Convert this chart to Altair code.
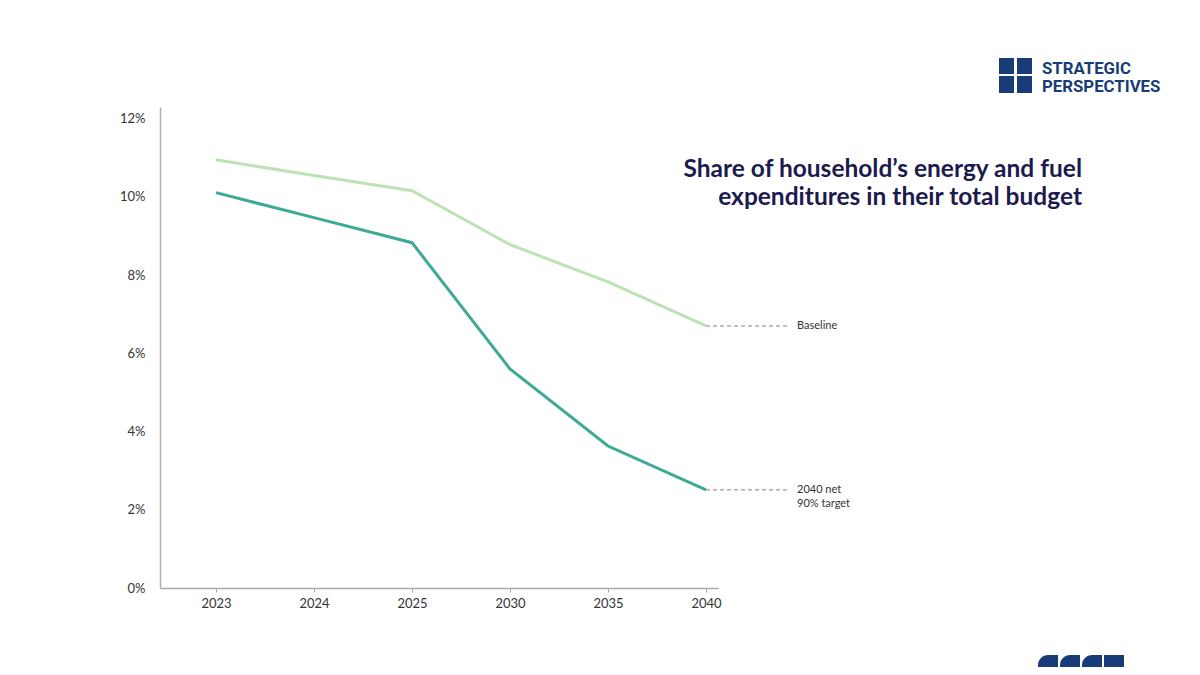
import altair as alt
import pandas as pd

years = ["2023", "2024", "2025", "2030", "2035", "2040"]
baseline = [10.95, 10.55, 10.16, 8.78, 7.83, 6.70]
target = [10.11, 9.47, 8.83, 5.60, 3.63, 2.51]
y_ticks = [0, 2, 4, 6, 8, 10, 12]

rows = []
for i, yr in enumerate(years):
    rows.append({"idx": i, "year": yr, "value": baseline[i], "series": "Baseline"})
    rows.append({"idx": i, "year": yr, "value": target[i], "series": "Target"})
df = pd.DataFrame(rows)

FONT = "Lato"
NAVY = "#1b1b4f"
LOGO = "#173c78"

label_expr = "[" + ",".join("'%s'" % y for y in years) + "][datum.value]"

x_enc = alt.X(
    "idx:Q",
    scale=alt.Scale(domain=[-0.571, 5.122], nice=False, zero=False),
    axis=alt.Axis(
        values=list(range(len(years))), labelExpr=label_expr, title=None, grid=False,
        tickSize=4, tickColor="#aaaaaa", domainColor="#aaaaaa", domainWidth=1.5,
        labelFont=FONT, labelFontSize=13, labelColor="#333333", labelPadding=5,
    ),
)
y_enc = alt.Y(
    "value:Q",
    scale=alt.Scale(domain=[0, 12.3], nice=False),
    axis=alt.Axis(
        values=y_ticks, labelExpr="datum.value + '%'", title=None, grid=False,
        ticks=False, domainColor="#b0b0b0", domainWidth=1.5,
        labelFont=FONT, labelFontSize=13, labelColor="#333333", labelPadding=15,
    ),
)

lines = alt.Chart(df).mark_line(strokeWidth=3).encode(
    x=x_enc,
    y=y_enc,
    color=alt.Color("series:N", scale=alt.Scale(domain=["Baseline", "Target"],
                                                range=["#bde3b5", "#3daa95"]), legend=None),
)

last = df[df["idx"] == len(years) - 1]
dashes = alt.Chart(last).mark_rule(strokeDash=[4, 3], strokeWidth=1, color="#7f7fa6").encode(
    x="idx:Q", x2=alt.value(630), y="value:Q"
)

ann_labels = [("Baseline", baseline[-1], 0), ("2040 net", target[-1], 0), ("90% target", target[-1], 14)]
ann_layers = []
for txt, val, dy in ann_labels:
    ann_layers.append(
        alt.Chart(pd.DataFrame({"value": [val], "text": [txt]})).mark_text(
            align="left", baseline="middle", font=FONT, fontSize=11, color="#333333", dy=dy
        ).encode(x=alt.value(637), y="value:Q", text="text:N")
    )

title_lines = ["Share of household\u2019s energy and fuel", "expenditures in their total budget"]
title_layers = []
for k, t in enumerate(title_lines):
    title_layers.append(
        alt.Chart(pd.DataFrame({"t": [t]})).mark_text(
            align="right", baseline="middle", font=FONT, fontSize=24.5, fontWeight="bold", color=NAVY
        ).encode(x=alt.value(922), y=alt.value(63 + 28 * k), text="t:N")
    )

logo_words = ["STRATEGIC", "PERSPECTIVES"]
logo_layers = []
for k, t in enumerate(logo_words):
    logo_layers.append(
        alt.Chart(pd.DataFrame({"t": [t]})).mark_text(
            align="left", baseline="middle", font="Roboto", fontSize=16.8, fontWeight="bold",
            color=LOGO
        ).encode(x=alt.value(882), y=alt.value(-38.5 + 18.5 * k), text="t:N")
    )

blank = pd.DataFrame({"a": [0]})
rects = []
for (x1, x2, y1, y2) in [(839, 854, -49, -33), (857, 872, -49, -33),
                         (839, 854, -31, -14), (857, 872, -31, -14)]:
    rects.append(alt.Chart(blank).mark_rect(color=LOGO).encode(
        x=alt.value(x1), x2=alt.value(x2), y=alt.value(y1), y2=alt.value(y2)))
for j in range(4):
    x1 = 878 + j * 22
    rects.append(alt.Chart(blank).mark_rect(color=LOGO, cornerRadiusTopLeft=12 if j < 3 else 0).encode(
        x=alt.value(x1), x2=alt.value(x1 + 20), y=alt.value(548), y2=alt.value(570)))

chart = alt.layer(lines, dashes, *ann_layers, *title_layers, *logo_layers, *rects).properties(
    width=558, height=481,
    autosize=alt.AutoSizeParams(type="none"),
    padding={"left": 152, "top": 99, "right": 470, "bottom": 79},
    background="white",
).configure_view(stroke=None)

chart.save("out.html", embed_options={"renderer": "svg", "actions": False})
